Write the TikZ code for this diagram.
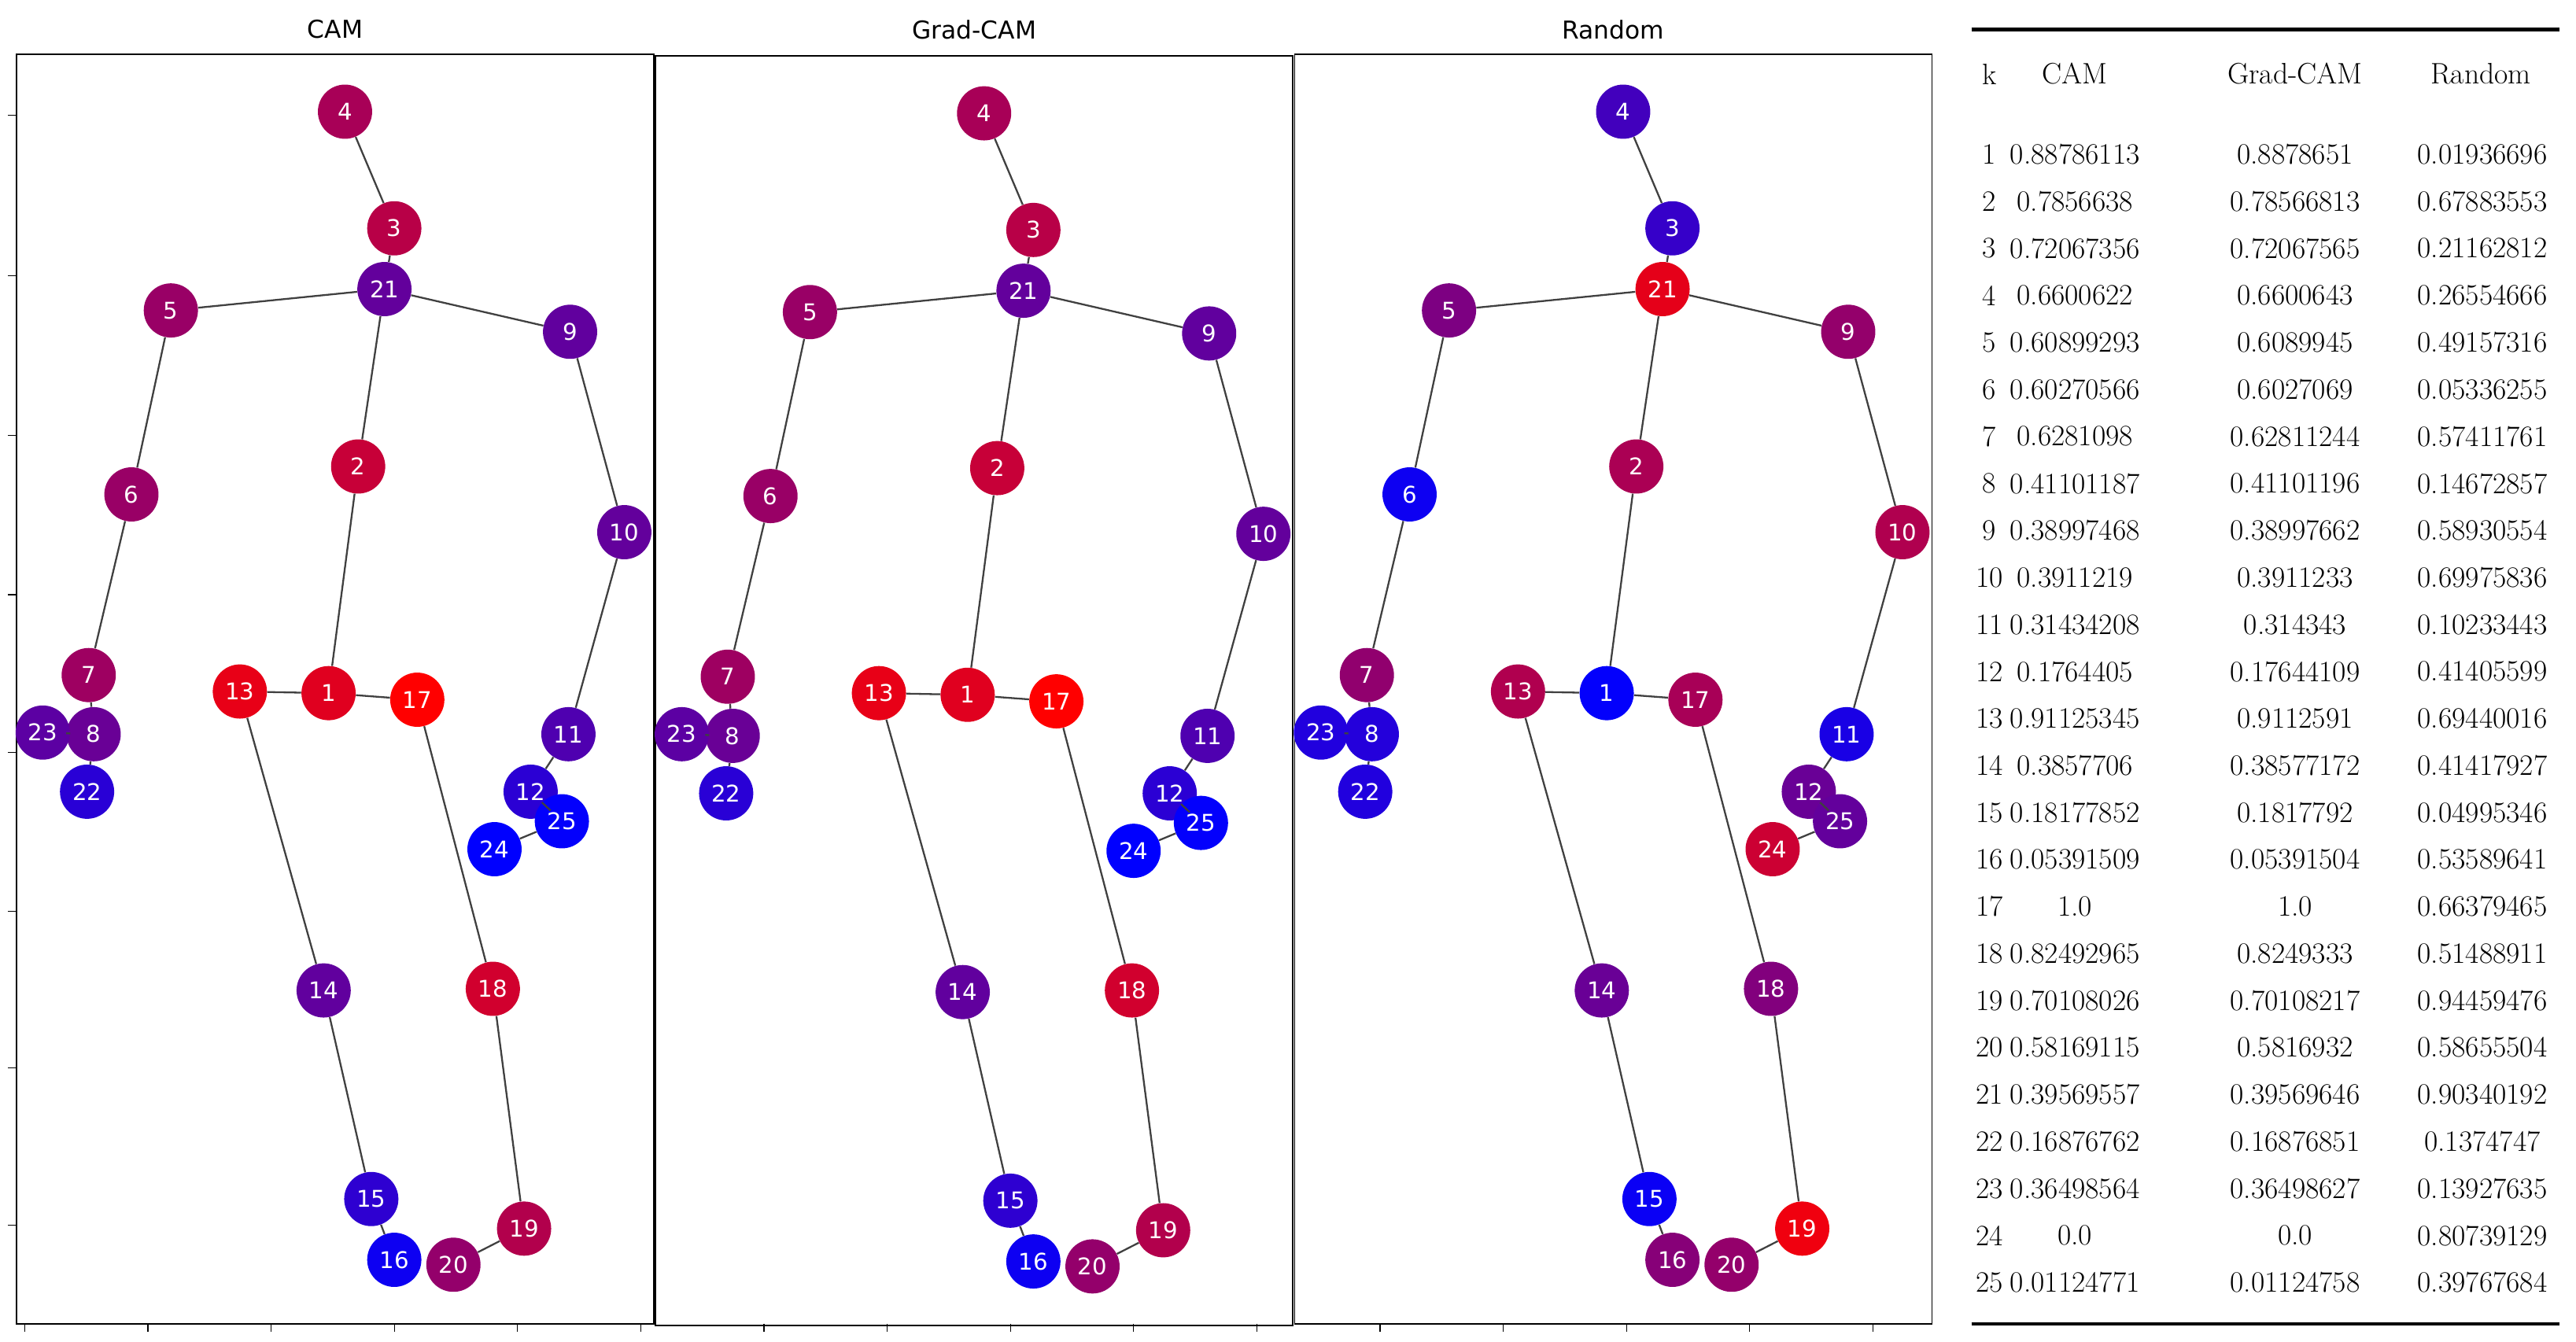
\documentclass[tikz,border=0pt]{standalone}
\usepackage{fontspec}
\newfontfamily\sansf{DejaVu Sans}
\begin{document}
\begin{tikzpicture}[x=1pt,y=-1pt,
  jn/.style={circle,minimum size=33pt,inner sep=0pt,text=white,font=\sansf\fontsize{14}{14}\selectfont},
  ed/.style={draw=black!75,line width=1.1pt},
  ttl/.style={font=\sansf\fontsize{15}{15}\selectfont},
  tb/.style={font=\fontsize{18}{18}\selectfont}]
\useasboundingbox (0,0) rectangle (1568,817);
\def\px{{200,218,240,210,104,80,54,57,347,380,346,323,146,197,226,240,254,300,319,276,234,53,26,301,342}}
\def\py{{422,284,139,68,189,301,411,447,202,324,447,482,421,603,730,767,426,602,748,770,176,482,446,517,500}}
\def\vc{{0.88786113,0.7856638,0.72067356,0.6600622,0.60899293,0.60270566,0.6281098,0.41101187,0.38997468,0.3911219,0.31434208,0.1764405,0.91125345,0.3857706,0.18177852,0.05391509,1.0,0.82492965,0.70108026,0.58169115,0.39569557,0.16876762,0.36498564,0.0,0.01124771}}
\def\vr{{0.01936696,0.67883553,0.21162812,0.26554666,0.49157316,0.05336255,0.57411761,0.14672857,0.58930554,0.69975836,0.10233443,0.41405599,0.69440016,0.41417927,0.04995346,0.53589641,0.66379465,0.51488911,0.94459476,0.58655504,0.90340192,0.1374747,0.13927635,0.80739129,0.39767684}}
% frames and titles
\foreach \p/\ox/\oy/\t in {c/0/0/CAM,g/389/1/Grad-CAM,r/778/0/Random}{
  \draw[line width=0.8pt] (10+\ox,33+\oy) rectangle (398+\ox,806+\oy);
  \node[ttl] (t\p) at (204+\ox,18) {\t};
}
\foreach \y in {70,168,265,362,458,555,650,746} \draw[line width=0.6pt] (10,\y) -- (5,\y);
\foreach \x in {15,90,165,240,315,390,465,540,615,690,765,840,915,990,1065,1140} \draw[line width=0.6pt] (\x,806) -- (\x,811);
% nodes
\foreach \p/\ox/\oy/\arr in {c/0/0/\vc,g/389/1/\vc,r/778/0/\vr}{
  \foreach \k in {1,...,25}{
    \pgfmathsetmacro\xx{\px[\k-1]+\ox}
    \pgfmathsetmacro\yy{\py[\k-1]+\oy}
    \pgfmathtruncatemacro\vv{100*\arr[\k-1]}
    \colorlet{nc}{red!\vv!blue}
    \node[jn,fill=nc] (\p\k) at (\xx,\yy) {\k};
  }
  \foreach \a/\b in {4/3,3/21,21/5,21/9,21/2,5/6,6/7,7/8,8/23,8/22,9/10,10/11,11/12,12/25,25/24,2/1,1/13,1/17,13/14,14/15,15/16,17/18,18/19,19/20}
    \draw[ed] (\p\a) -- (\p\b);
}
% table
\draw[line width=2.2pt] (1200,18) -- (1558,18);
\draw[line width=2.2pt] (1200,806) -- (1558,806);
\node[tb] (hk) at (1211,45) {k};
\node[tb] (hc) at (1263,45) {CAM};
\node[tb] (hg) at (1397,45) {Grad-CAM};
\node[tb] (hr) at (1510,45) {Random};
\foreach \k/\a/\b/\c [count=\i from 0] in {
1/0.88786113/0.8878651/0.01936696,
2/0.7856638/0.78566813/0.67883553,
3/0.72067356/0.72067565/0.21162812,
4/0.6600622/0.6600643/0.26554666,
5/0.60899293/0.6089945/0.49157316,
6/0.60270566/0.6027069/0.05336255,
7/0.6281098/0.62811244/0.57411761,
8/0.41101187/0.41101196/0.14672857,
9/0.38997468/0.38997662/0.58930554,
10/0.3911219/0.3911233/0.69975836,
11/0.31434208/0.314343/0.10233443,
12/0.1764405/0.17644109/0.41405599,
13/0.91125345/0.9112591/0.69440016,
14/0.3857706/0.38577172/0.41417927,
15/0.18177852/0.1817792/0.04995346,
16/0.05391509/0.05391504/0.53589641,
17/1.0/1.0/0.66379465,
18/0.82492965/0.8249333/0.51488911,
19/0.70108026/0.70108217/0.94459476,
20/0.58169115/0.5816932/0.58655504,
21/0.39569557/0.39569646/0.90340192,
22/0.16876762/0.16876851/0.1374747,
23/0.36498564/0.36498627/0.13927635,
24/0.0/0.0/0.80739129,
25/0.01124771/0.01124758/0.39767684}{
  \pgfmathsetmacro\yy{94+28.62*\i}
  \node[tb] (k\k) at (1211,\yy) {\k};
  \node[tb] (a\k) at (1263,\yy) {\a};
  \node[tb] (b\k) at (1397,\yy) {\b};
  \node[tb] (d\k) at (1511,\yy) {\c};
}
\end{tikzpicture}
\end{document}
